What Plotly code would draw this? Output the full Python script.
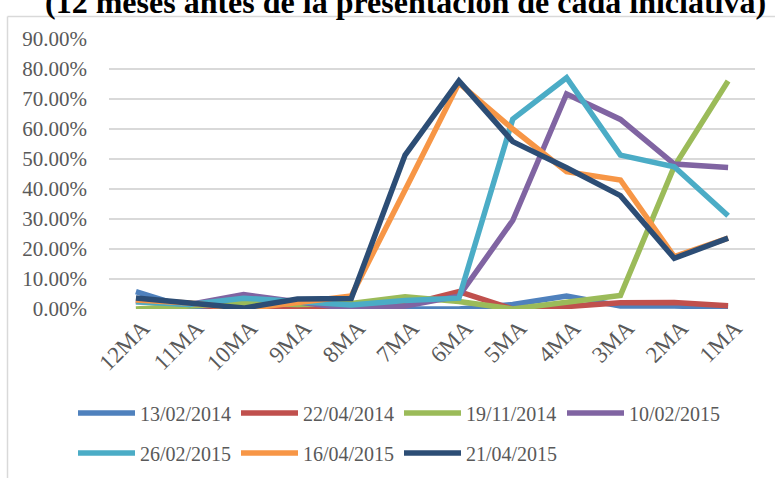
import plotly.graph_objects as go

categories = ["12MA", "11MA", "10MA", "9MA", "8MA", "7MA", "6MA", "5MA", "4MA", "3MA", "2MA", "1MA"]
series_names = ["13/02/2014", "22/04/2014", "19/11/2014", "10/02/2015", "26/02/2015", "16/04/2015", "21/04/2015"]
s_13_02_2014 = [5.8, 0.2, 1.5, 1.0, 0.0, 0.0, 0.0, 1.5, 4.3, 1.0, 1.0, 0.5]
s_22_04_2014 = [2.5, 1.5, 0.0, 0.3, 0.4, 1.3, 5.8, 0.0, 0.8, 2.1, 2.2, 1.1]
s_19_11_2014 = [0.0, 1.0, 2.0, 1.5, 1.8, 4.1, 2.5, 0.0, 2.4, 4.5, 47.5, 76.0]
s_10_02_2015 = [3.0, 1.5, 4.8, 2.5, 0.0, 1.0, 4.3, 29.5, 71.7, 63.2, 48.3, 47.2]
s_26_02_2015 = [2.4, 1.5, 3.6, 2.5, 1.3, 2.8, 3.6, 63.3, 77.1, 51.3, 47.4, 31.1]
s_16_04_2015 = [3.0, 2.0, 0.0, 2.0, 4.3, 39.7, 75.3, 60.0, 45.8, 43.0, 17.5, 23.6]
s_21_04_2015 = [3.7, 2.0, 0.3, 3.3, 3.5, 51.3, 76.0, 55.8, 47.1, 37.8, 16.9, 23.6]
y_ticks = [0, 10, 20, 30, 40, 50, 60, 70, 80, 90]
title_text = "(12 meses antes de la presentación de cada iniciativa)"

colors = ["#4F81BD", "#C0504D", "#9BBB59", "#8064A2", "#4BACC6", "#F79646", "#2C4D75"]
all_series = [s_13_02_2014, s_22_04_2014, s_19_11_2014, s_10_02_2015,
              s_26_02_2015, s_16_04_2015, s_21_04_2015]

FONT = "Liberation Serif"
W, H = 775, 478
ML, MR, MT, MB = 109, 20, 39, 169

fig = go.Figure()
for i, (name, vals, col) in enumerate(zip(series_names, all_series, colors)):
    fig.add_trace(go.Scatter(
        x=categories, y=[v / 100 for v in vals], name=name, mode="lines",
        line=dict(color=col, width=5.5),
        legend="legend" if i < 4 else "legend2",
    ))

pw = W - ML - MR
ph = H - MT - MB

def px_x(p):
    return (p - ML) / pw

def px_y(p):
    return (H - MB - p) / ph

legend_common = dict(
    orientation="h", xanchor="left", yanchor="middle",
    font=dict(family=FONT, size=20, color="#595959"),
    itemwidth=57, entrywidth=91, entrywidthmode="pixels", traceorder="normal",
    bgcolor="rgba(0,0,0,0)",
)

fig.update_layout(
    width=W, height=H,
    margin=dict(l=ML, r=MR, t=MT, b=MB, pad=0, autoexpand=False),
    paper_bgcolor="white", plot_bgcolor="white",
    font=dict(family=FONT, color="#595959", size=20),
    showlegend=True,
    legend=dict(x=px_x(73), y=px_y(413), **legend_common),
    legend2=dict(x=px_x(73), y=px_y(453), **legend_common),
    xaxis=dict(
        type="category", range=[-0.5, len(categories) - 0.5],
        tickangle=-45, showgrid=False, showline=False, zeroline=False,
        ticks="", tickfont=dict(family=FONT, size=23, color="#595959"),
        ticklabelstandoff=0, ticklabelshift=7, automargin=False,
    ),
    yaxis=dict(
        range=[0, 0.9], tickvals=[t / 100 for t in y_ticks], tickformat=".2%",
        showgrid=True, gridcolor="#D9D9D9", gridwidth=1.5, zeroline=False, showline=False,
        ticks="", tickfont=dict(family=FONT, size=21, color="#595959"),
        ticklabelstandoff=21, automargin=False,
    ),
    annotations=[dict(
        text="<b>" + title_text + "</b>", xref="paper", yref="paper",
        x=px_x(405), y=1, xanchor="center", yanchor="bottom", yshift=17,
        showarrow=False, font=dict(family=FONT, size=32, color="black"),
    )],
    shapes=[
        dict(type="line", xref="paper", yref="paper", x0=px_x(7.5), x1=px_x(800),
             y0=px_y(16.5), y1=px_y(16.5), line=dict(color="#D9D9D9", width=1.5), layer="below"),
        dict(type="line", xref="paper", yref="paper", x0=px_x(7.5), x1=px_x(7.5),
             y0=px_y(16.5), y1=px_y(500), line=dict(color="#D9D9D9", width=1.5), layer="below"),
    ],
)

fig.write_html(
    "out.html",
    config={"displayModeBar": False},
    post_script="document.body.style.margin='0';document.body.style.overflow='hidden';",
)
